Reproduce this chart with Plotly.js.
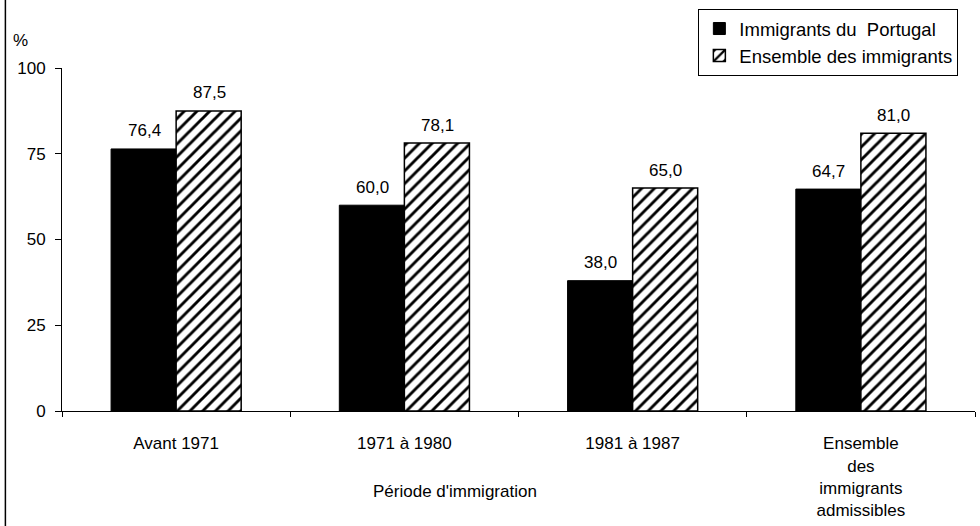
<!DOCTYPE html>
<html>
<head>
<meta charset="utf-8">
<script src="https://cdn.plot.ly/plotly-3.0.1.min.js"></script>
<style>html,body{margin:0;padding:0;background:#fff;}#chart{width:980px;height:526px;}</style>
</head>
<body>
<div id="chart"></div>
<script>
const categories = ["Avant 1971", "1971 à 1980", "1981 à 1987", "Ensemble<br>des<br>immigrants<br>admissibles"];
const portugal = [76.4, 60.0, 38.0, 64.7];
const ensemble = [87.5, 78.1, 65.0, 81.0];
const seriesNames = ["Immigrants du  Portugal", "Ensemble des immigrants"];
const yTicks = [0, 25, 50, 75, 100];

const fmt = v => v.toFixed(1).replace('.', ',');
const font = {family: 'Liberation Sans, Arial, sans-serif', color: '#000'};
const f = s => Object.assign({size: s}, font);

const traces = [
  {
    type: 'bar', x: categories, y: portugal, name: seriesNames[0],
    marker: {color: '#000', line: {color: '#000', width: 1}}
  },
  {
    type: 'bar', x: categories, y: ensemble, name: seriesNames[1],
    marker: {color: '#fff', line: {color: '#000', width: 1.5},
      pattern: {shape: '/', fgcolor: '#000', bgcolor: '#fff', size: 9, solidity: 0.32}}
  }
];

// value labels placed through the axes' own scales
const labelAnns = [];
categories.forEach((c, i) => {
  labelAnns.push({xref: 'x', yref: 'y', x: c, y: portugal[i], xshift: -32, yshift: 18,
    text: fmt(portugal[i]), showarrow: false, font: f(17), xanchor: 'center', yanchor: 'middle'});
  labelAnns.push({xref: 'x', yref: 'y', x: c, y: ensemble[i], xshift: 33, yshift: 18,
    text: fmt(ensemble[i]), showarrow: false, font: f(17), xanchor: 'center', yanchor: 'middle'});
});

const layout = {
  width: 980, height: 526,
  margin: {l: 62, r: 5, t: 68, b: 115},
  paper_bgcolor: '#fff', plot_bgcolor: '#fff',
  font: f(17),
  barmode: 'group', bargap: 0.43, bargroupgap: 0,
  showlegend: true,
  legend: {x: 0.697, y: 1.172, xanchor: 'left', yanchor: 'top',
    bordercolor: '#000', borderwidth: 1, bgcolor: '#fff',
    font: f(18.5), tracegroupgap: 0, itemwidth: 30},
  xaxis: {
    showline: true, linecolor: '#000', linewidth: 1,
    ticks: 'outside', tickson: 'boundaries', ticklen: 5, tickcolor: '#000',
    showgrid: false, tickfont: f(17), ticklabelstandoff: 17
  },
  yaxis: {
    range: [0, 100], tickvals: yTicks, ticktext: yTicks.map(String),
    showline: true, linecolor: '#000', linewidth: 1,
    ticks: 'outside', ticklen: 6, tickcolor: '#000',
    showgrid: false, zeroline: false, tickfont: f(17), ticklabelstandoff: 6
  },
  annotations: labelAnns.concat([
    {text: '%', xref: 'paper', yref: 'paper', x: -0.045, y: 1.08, xanchor: 'center', yanchor: 'middle',
     showarrow: false, font: f(17)},
    {text: "Période d'immigration", xref: 'paper', yref: 'paper', x: 0.43, y: -0.235,
     xanchor: 'center', yanchor: 'middle', showarrow: false, font: f(17)}
  ]),
  shapes: [
    {type: 'line', xref: 'paper', yref: 'paper', x0: -0.062, x1: -0.062, y0: -0.34, y1: 1.2,
     line: {color: '#000', width: 1.5}}
  ]
};

Plotly.newPlot('chart', traces, layout, {displayModeBar: false, staticPlot: true});
</script>
</body>
</html>
